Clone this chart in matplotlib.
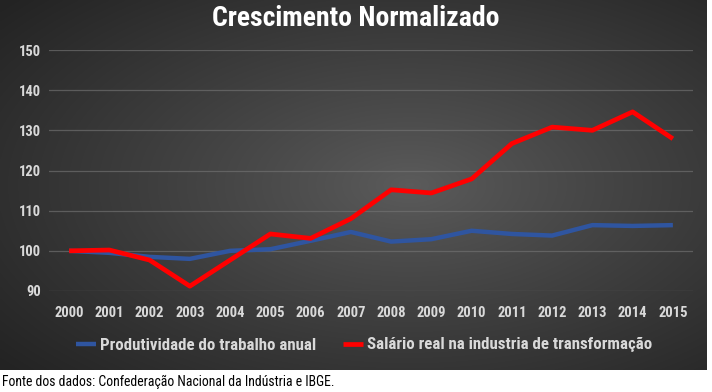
import numpy as np
import matplotlib
matplotlib.use("Agg")
import matplotlib.pyplot as plt
from matplotlib import font_manager

# dados
anos = list(range(2000, 2016))
produtividade = [100, 99.5, 98.5, 98.0, 100.0, 100.4, 102.5, 104.7,
                 102.3, 102.9, 105.0, 104.2, 103.8, 106.4, 106.2, 106.4]
salario = [100, 100.2, 97.7, 91.2, 97.7, 104.2, 103.1, 108.0,
           115.2, 114.4, 117.9, 126.7, 130.8, 130.0, 134.6, 127.9]
y_ticks = [90, 100, 110, 120, 130, 140, 150]

nomes = [f.name for f in font_manager.fontManager.ttflist]
fonte = 'DejaVu Sans'
for f in ['Liberation Sans Narrow', 'Roboto Condensed', 'Open Sans']:
    if f in nomes:
        fonte = f
        break
plt.rcParams['font.family'] = [fonte, 'DejaVu Sans']

W, H = 712, 392
fig = plt.figure(figsize=(W / 100, H / 100), dpi=100)
fig.patch.set_facecolor('white')

# fundo escuro com gradiente radial
bg = fig.add_axes([0, 1 - 370 / H, 707 / W, 370 / H])
xx, yy = np.meshgrid(np.linspace(0, 1, 400), np.linspace(0, 1, 220))
r = np.sqrt(((xx - 0.58) / 0.75) ** 2 + ((yy - 0.5) / 0.75) ** 2)
r = np.clip(r, 0, 1)
shade = 0.36 - 0.22 * r ** 0.9
img = np.dstack([shade, shade, shade])
bg.imshow(img, aspect='auto', extent=[0, 1, 0, 1], interpolation='bilinear')
bg.set_axis_off()

ax = fig.add_axes([49 / W, 1 - 291 / H, (693 - 49) / W, (291 - 50) / H])
ax.set_facecolor('none')
ax.plot(anos, produtividade, color='#2f55a0', lw=3.2, solid_capstyle='butt',
        label='Produtividade do trabalho anual', zorder=3)
ax.plot(anos, salario, color='#ff0000', lw=3.4, solid_capstyle='butt',
        label='Salário real na industria de transformação', zorder=4)

ax.set_xlim(1999.5, 2015.5)
ax.set_ylim(90, 150)
ax.set_yticks(y_ticks)
ax.set_xticks(anos)
ax.grid(axis='y', color='#737373', lw=0.9, alpha=0.65)
ax.grid(axis='x', visible=False)
for s in ax.spines.values():
    s.set_visible(False)
ax.tick_params(length=0, colors='#d9d9d9', labelsize=10.5)
ax.tick_params(axis='x', pad=11)
ax.tick_params(axis='y', pad=6)
for lbl in ax.get_xticklabels() + ax.get_yticklabels():
    lbl.set_fontweight('bold')

fig.text(356 / W, 1 - 18 / H, 'Crescimento Normalizado', ha='center', va='center',
         color='white', fontsize=20, fontweight='bold')

leg = fig.legend(loc='center', bbox_to_anchor=(364 / W, 1 - 345 / H), ncol=2,
                 frameon=False, handlelength=1.2, handletextpad=0.2,
                 columnspacing=1.6, prop={'weight': 'bold', 'size': 12.2})
for t in leg.get_texts():
    t.set_color('#d9d9d9')

fig.text(2 / W, 1 - 382 / H, 'Fonte dos dados: Confederação Nacional da Indústria e IBGE.',
         ha='left', va='center', color='black', fontsize=9.9)

fig.savefig('out.png', dpi=100, facecolor='white')
